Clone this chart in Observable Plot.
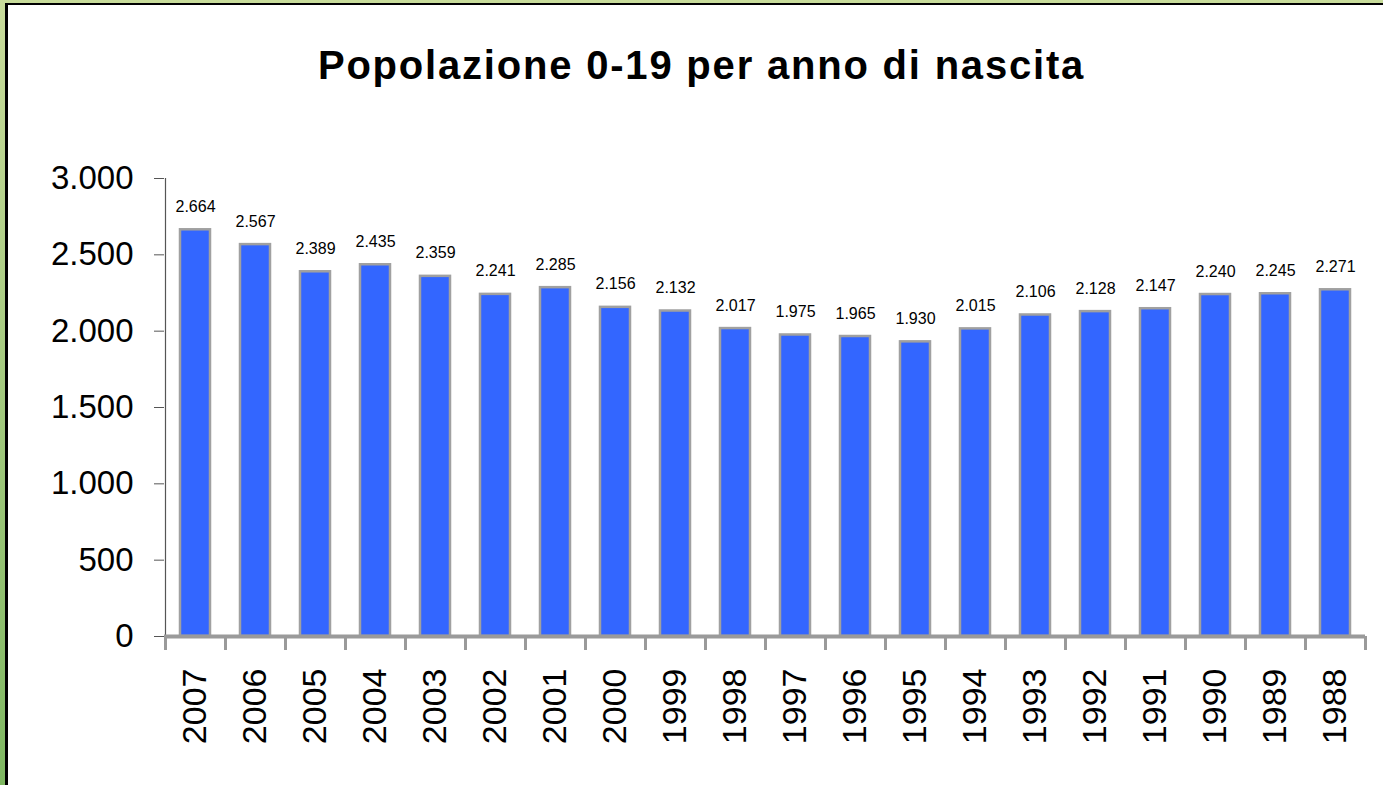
<!DOCTYPE html>
<html>
<head>
<meta charset="utf-8">
<script src="https://cdn.jsdelivr.net/npm/d3@7"></script>
<script src="https://cdn.jsdelivr.net/npm/@observablehq/plot@0.6"></script>
<style>
  body { margin: 0; }
  #page { position: relative; width: 1383px; height: 785px; overflow: hidden;
          background: linear-gradient(#c8dc9b, #7fb862); font-family: "Liberation Sans", Arial, sans-serif; }
  #box { position: absolute; left: 5px; top: 3px; width: 1390px; height: 800px; background: #fff;
         border-left: 3px solid #000; border-top: 2px solid #000; }
  #title { position: absolute; left: 0; top: 40px; width: 1387px; text-align: center;
           font-size: 40px; line-height: 40px; font-weight: bold; letter-spacing: 1.8px; color: #000; }
  #chart { position: absolute; left: 0; top: 0; }
</style>
</head>
<body>
<div id="page">
  <div id="box">
    <div id="title">Popolazione 0-19 per anno di nascita</div>
    <div id="chart"></div>
  </div>
</div>
<script>
const years = ["2007","2006","2005","2004","2003","2002","2001","2000","1999","1998",
               "1997","1996","1995","1994","1993","1992","1991","1990","1989","1988"];
const values = [2664, 2567, 2389, 2435, 2359, 2241, 2285, 2156, 2132, 2017,
                1975, 1965, 1930, 2015, 2106, 2128, 2147, 2240, 2245, 2271];
const yTicks = [0, 500, 1000, 1500, 2000, 2500, 3000];

const data = years.map((y, i) => ({year: y, value: values[i]}));
const fmt = d => d3.format(",")(d).replace(/,/g, ".");

const chart = Plot.plot({
  width: 1375,
  height: 780,
  marginLeft: 156,
  marginRight: 18,
  marginTop: 173,
  marginBottom: 149,
  style: {fontFamily: "'Liberation Sans', Arial, sans-serif", background: "transparent", color: "#000"},
  x: {type: "band", domain: years, paddingInner: 0.5, paddingOuter: 0.25},
  y: {domain: [0, 3000]},
  marks: [
    Plot.ruleX([years[0]], {dx: -30, y1: 0, y2: 3000, stroke: "#555", strokeWidth: 1.2}),
    Plot.axisY({ticks: yTicks, tickFormat: fmt, tickSize: 10, tickPadding: 21, fontSize: 33,
                stroke: "#555", fill: "#000", label: null, style: {letterSpacing: "0.5px"}}),
    Plot.barY(data, {x: "year", y: "value", fill: "#3366ff", stroke: "#a0a0a0", strokeWidth: 2.5}),
    Plot.ruleY([0], {stroke: "#9a9a9a", strokeWidth: 4}),
    Plot.axisX({tickSize: 14, dx: -30, stroke: "#9a9a9a", strokeWidth: 3, fill: "none", label: null}),
    Plot.axisX({ticks: [years[years.length - 1]], tickSize: 14, dx: 30, stroke: "#9a9a9a", strokeWidth: 3, fill: "none", label: null}),
    Plot.axisX({tickSize: 0, tickPadding: 32, tickRotate: -90, fontSize: 34, fill: "#000", label: null,
                style: {letterSpacing: "0.5px"}}),
    Plot.text(data, {x: "year", y: "value", text: d => fmt(d.value), lineAnchor: "bottom", dy: -18,
                     fontSize: 16, fill: "#000", style: {letterSpacing: "1.3px"}})
  ]
});
document.getElementById("chart").appendChild(chart);
</script>
</body>
</html>
